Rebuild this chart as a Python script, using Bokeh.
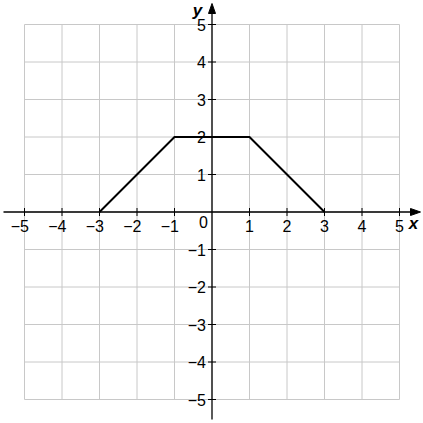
import math
from bokeh.plotting import figure
from bokeh.models import Range1d
from bokeh.core.properties import value
from bokeh.embed import file_html
from bokeh.resources import INLINE

# ---- data ----
line_x = [-3, -1, 1, 3]
line_y = [0, 2, 2, 0]
grid_vals = [-5, -4, -3, -2, -1, 0, 1, 2, 3, 4, 5]
tick_vals = [-5, -4, -3, -2, -1, 1, 2, 3, 4, 5]
tick_labels = ["−5", "−4", "−3", "−2", "−1", "1", "2", "3", "4", "5"]
x_title = "x"
y_title = "y"

W = H = 423
LIM = 5.64
px = (2 * LIM) / W  # data units per pixel

p = figure(width=W, height=H, output_backend="svg", toolbar_location=None,
           x_range=Range1d(-LIM, LIM), y_range=Range1d(-LIM, LIM),
           min_border=0)
p.axis.visible = False
p.xgrid.visible = False
p.ygrid.visible = False
p.outline_line_color = None
p.background_fill_color = "white"

FONT = value("Liberation Sans")
FS = "16px"

# grid
gmin, gmax = grid_vals[0], grid_vals[-1]
p.segment(x0=grid_vals, y0=[gmin] * len(grid_vals), x1=grid_vals, y1=[gmax] * len(grid_vals),
          line_color="#c8c8c8", line_width=1)
p.segment(x0=[gmin] * len(grid_vals), y0=grid_vals, x1=[gmax] * len(grid_vals), y1=grid_vals,
          line_color="#c8c8c8", line_width=1)

# axes
xtip = LIM - 3 * px
ytip = LIM - 3 * px
alen = 10 * px
ahw = 3.5 * px
p.segment(x0=[-LIM + 3 * px], y0=[0], x1=[xtip - alen / 2], y1=[0], line_color="black", line_width=1.3)
p.segment(x0=[0], y0=[-LIM + 4 * px], x1=[0], y1=[ytip - alen / 2], line_color="black", line_width=1.3)
p.patch([xtip, xtip - alen, xtip - alen], [0, ahw, -ahw], color="black")
p.patch([0, ahw, -ahw], [ytip, ytip - alen, ytip - alen], color="black")

# ticks
zeros = [0] * len(tick_vals)
p.scatter(x=tick_vals, y=zeros, marker="dash", angle=math.pi / 2, size=8,
          line_color="black", line_width=1)
p.scatter(x=zeros, y=tick_vals, marker="dash", size=8, line_color="black", line_width=1)

# x tick labels
neg = [i for i, v in enumerate(tick_vals) if v < 0]
pos = [i for i, v in enumerate(tick_vals) if v > 0]
p.text(x=[tick_vals[i] + 4.5 * px for i in neg], y=[-8 * px] * len(neg),
       text=[tick_labels[i] for i in neg], text_align="right", text_baseline="top",
       text_font=FONT, text_font_size=FS, text_color="black")
p.text(x=[tick_vals[i] for i in pos], y=[-8 * px] * len(pos),
       text=[tick_labels[i] for i in pos], text_align="center", text_baseline="top",
       text_font=FONT, text_font_size=FS, text_color="black")
# y tick labels
p.text(x=[-6 * px] * len(tick_vals), y=tick_vals, text=tick_labels,
       text_align="right", text_baseline="middle",
       text_font=FONT, text_font_size=FS, text_color="black")
# zero label
p.text(x=[-8.5 * px], y=[-4 * px], text=["0"], text_align="center", text_baseline="top",
       text_font=FONT, text_font_size=FS, text_color="black")

# axis titles
p.text(x=[LIM - 10 * px], y=[-11 * px], text=[x_title], text_align="center",
       text_baseline="middle", text_font=FONT, text_font_size="17px",
       text_font_style="bold italic", text_color="black")
p.text(x=[-14.5 * px], y=[LIM - 10 * px], text=[y_title], text_align="center",
       text_baseline="middle", text_font=FONT, text_font_size="17px",
       text_font_style="bold italic", text_color="black")

# function graph
p.line(line_x, line_y, line_color="black", line_width=2)

open("out.html", "w").write(file_html(p, INLINE))
